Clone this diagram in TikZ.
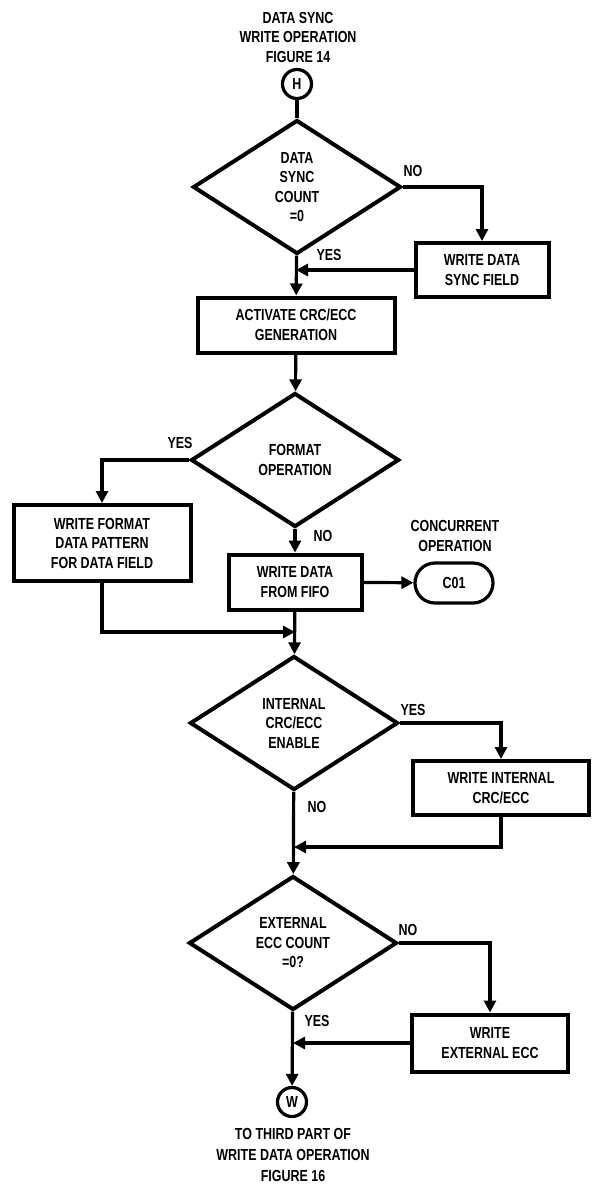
\documentclass[tikz,border=0pt]{standalone}
\usepackage{fontspec}
\setmainfont{Liberation Sans}[FakeStretch=0.78]
\usepackage{tikz}
\usetikzlibrary{backgrounds}
\usetikzlibrary{shapes,shapes.geometric,shapes.misc}
\usetikzlibrary{arrows.meta}
\pgfdeclarelayer{edgelayer}
\pgfdeclarelayer{nodelayer}
\pgfsetlayers{background,edgelayer,nodelayer,main}
\tikzstyle{none}=[inner sep=0mm]
\tikzstyle{txt}=[inner sep=0mm,align=center,font=\fontsize{16}{19.5}\selectfont\bfseries]
\tikzstyle{proc}=[txt,shape=rectangle,draw=black,fill=white,line width=4pt]
\tikzstyle{dec}=[txt,shape=diamond,draw=black,fill=white,line width=4pt,minimum width=208pt,minimum height=134pt]
\tikzstyle{conn}=[txt,shape=circle,draw=black,fill=white,line width=3.2pt,minimum size=29pt]
\tikzstyle{term}=[proc,line width=3.2pt,rounded corners=20pt,minimum width=78pt,minimum height=40pt]
\tikzstyle{wire}=[line width=3.2pt]
\tikzstyle{flow}=[wire,-{Triangle[length=12pt,width=12pt]}]

\begin{document}
\begin{tikzpicture}[x=1pt,y=-1pt]
	\useasboundingbox (0,0) rectangle (600,1187);
	\begin{pgfonlayer}{nodelayer}
		\node [style=txt] (top) at (298, 37) {DATA SYNC\\WRITE OPERATION\\FIGURE 14};
		\node [style=conn] (h) at (297, 84) {H};
		\node [style=dec] (d1) at (297, 187) {DATA\\SYNC\\COUNT\\=0};
		\node [style=proc, minimum width=133pt, minimum height=54pt] (b1) at (482, 270) {WRITE DATA\\SYNC FIELD};
		\node [style=proc, minimum width=197pt, minimum height=55pt] (b2) at (296, 325) {ACTIVATE CRC/ECC\\GENERATION};
		\node [style=dec] (d2) at (295, 460) {FORMAT\\OPERATION};
		\node [style=proc, minimum width=177pt, minimum height=76pt] (b3) at (102, 543) {WRITE FORMAT\\DATA PATTERN\\FOR DATA FIELD};
		\node [style=proc, minimum width=133pt, minimum height=55pt] (b4) at (295, 582) {WRITE DATA\\FROM FIFO};
		\node [style=term] (c1) at (454, 583) {C01};
		\node [style=txt] (cc) at (455, 536) {CONCURRENT\\OPERATION};
		\node [style=dec] (d3) at (294, 723) {INTERNAL\\CRC/ECC\\ENABLE};
		\node [style=proc, minimum width=176pt, minimum height=54pt] (b5) at (501, 788) {WRITE INTERNAL\\CRC/ECC};
		\node [style=dec] (d4) at (293, 943) {EXTERNAL\\ECC COUNT\\=0?};
		\node [style=proc, minimum width=156pt, minimum height=57pt] (b6) at (490, 1043) {WRITE\\EXTERNAL ECC};
		\node [style=conn] (w) at (292, 1102) {W};
		\node [style=txt] (end) at (293, 1155) {TO THIRD PART OF\\[1.5pt]WRITE DATA OPERATION\\[1.5pt]FIGURE 16};
		\node [style=txt] (n1) at (413, 171) {NO};
		\node [style=txt] (y1) at (329, 255) {YES};
		\node [style=txt] (y2) at (180, 443) {YES};
		\node [style=txt] (n2) at (323, 536) {NO};
		\node [style=txt] (y3) at (413, 710) {YES};
		\node [style=txt] (n3) at (317, 807) {NO};
		\node [style=txt] (n4) at (408, 930) {NO};
		\node [style=txt] (y4) at (317, 1021) {YES};
		\coordinate (j1) at (296, 270);
		\coordinate (j2) at (295, 632);
		\coordinate (j3) at (294, 847);
		\coordinate (j4) at (293, 1043);
	\end{pgfonlayer}
	\begin{pgfonlayer}{edgelayer}
		\draw [style=wire] (h) -- (d1);
		\draw [style=flow] (d1.east) -| (b1.north);
		\draw [style=flow] (b1.west) -- (j1);
		\draw [style=flow] (d1) -- (b2);
		\draw [style=flow] (b2) -- (d2);
		\draw [style=flow] (d2.west) -| (b3.north);
		\draw [style=flow] (d2) -- (b4);
		\draw [style=flow] (b4) -- (c1);
		\draw [style=flow] (b4) -- (d3);
		\draw [style=flow] (b3.south) |- (j2);
		\draw [style=flow] (d3.east) -| (b5.north);
		\draw [style=flow] (b5.south) |- (j3);
		\draw [style=flow] (d3) -- (d4);
		\draw [style=flow] (d4.east) -| (b6.north);
		\draw [style=flow] (b6.west) -- (j4);
		\draw [style=flow] (d4) -- (w);
	\end{pgfonlayer}
\end{tikzpicture}
\end{document}
